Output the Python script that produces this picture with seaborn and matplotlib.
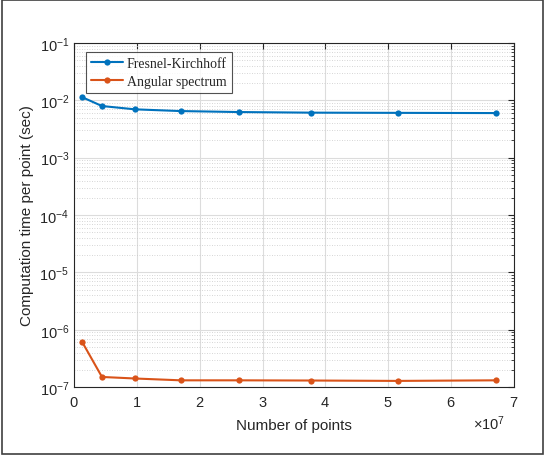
import numpy as np
import pandas as pd
import matplotlib
matplotlib.use("Agg")
import matplotlib.pyplot as plt
import matplotlib.ticker as mticker
from matplotlib.patches import Rectangle
import seaborn as sns

# data
n_points = [1.26e6, 4.45e6, 9.7e6, 1.70e7, 2.63e7, 3.77e7, 5.15e7, 6.71e7]
t_fresnel = [1.14e-2, 7.96e-3, 6.97e-3, 6.5e-3, 6.25e-3, 6.1e-3, 6.05e-3, 6.0e-3]
t_angular = [6.22e-7, 1.50e-7, 1.41e-7, 1.31e-7, 1.31e-7, 1.30e-7, 1.28e-7, 1.31e-7]
methods = ["Fresnel-Kirchhoff", "Angular spectrum"]
colors = ["#0072BD", "#D95319"]

df = pd.DataFrame({
    "points": n_points * 2,
    "time": t_fresnel + t_angular,
    "method": [methods[0]] * len(n_points) + [methods[1]] * len(n_points),
})

sns.set_style("white")
plt.rcParams['font.family'] = ['Liberation Sans', 'DejaVu Sans']
plt.rcParams['mathtext.fontset'] = 'custom'
plt.rcParams['mathtext.rm'] = 'Liberation Sans'
plt.rcParams['mathtext.it'] = 'Liberation Sans:italic'

fig = plt.figure(figsize=(5.45, 4.56), dpi=100)
ax = fig.add_axes([0.1358, 0.149, 0.807, 0.7545])

sns.lineplot(data=df, x="points", y="time", hue="method", palette=colors,
             marker="o", markersize=4.5, markeredgewidth=0, linewidth=1.5,
             ax=ax)

ax.set_yscale("log")
ax.set_xlim(0, 7e7)
ax.set_ylim(1e-7, 1e-1)

ax.xaxis.set_major_locator(mticker.MultipleLocator(1e7))
fmt = mticker.ScalarFormatter(useMathText=True)
fmt.set_powerlimits((0, 0))
ax.xaxis.set_major_formatter(fmt)
ax.yaxis.set_major_locator(mticker.LogLocator(base=10, numticks=10))
ax.yaxis.set_minor_locator(mticker.LogLocator(base=10, subs=np.arange(2, 10), numticks=20))
ax.yaxis.set_minor_formatter(mticker.NullFormatter())

ax.grid(True, which="major", color="#dcdcdc", linewidth=0.8)
ax.grid(True, which="minor", axis="y", color="#c8c8c8", linestyle=(0, (1, 2)), linewidth=0.6)
ax.set_axisbelow(True)

for s in ax.spines.values():
    s.set_color("#262626")
    s.set_linewidth(0.8)
ax.tick_params(which="both", direction="in", top=True, right=True,
               colors="#262626", labelsize=10.5)
ax.tick_params(which="major", length=4)
ax.tick_params(axis="x", pad=6)
ax.tick_params(which="minor", length=2)
off = ax.xaxis.get_offset_text()
off.set_fontsize(10.5)
off.set_color("#262626")
off.set_x(0.98)

ax.set_xlabel("Number of points", fontsize=11, color="#262626", labelpad=6)
ax.set_ylabel("Computation time per point (sec)", fontsize=11, color="#262626")

leg = ax.legend(loc="upper left", bbox_to_anchor=(0.027, 0.974), borderaxespad=0,
                prop={"family": "Liberation Serif", "size": 10},
                frameon=True, fancybox=False, edgecolor="#262626",
                handlelength=2.3, handletextpad=0.3, borderpad=0.35,
                labelspacing=0.35)
leg.get_frame().set_linewidth(0.8)

fig.patches.append(Rectangle((0.003, 0.003), 0.994, 0.994, transform=fig.transFigure,
                             fill=False, edgecolor="#404040", linewidth=1.2))

fig.savefig("out.png", dpi=100)
